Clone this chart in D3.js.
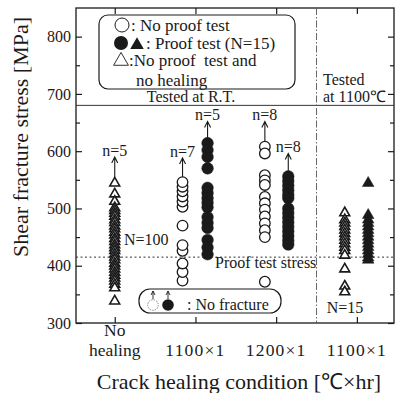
<!DOCTYPE html>
<html>
<head>
<meta charset="utf-8">
<script src="https://cdn.jsdelivr.net/npm/d3@7"></script>
<style>
  body { margin: 0; background: #fff; }
  text { font-family: "Liberation Serif", "Times New Roman", serif; fill: #1a1a1a; }
</style>
</head>
<body>
<svg id="chart"></svg>
<script>
// categories on the x axis
const categories = [["No", "healing"], ["1100×1"], ["1200×1"], ["1100×1"]];
const yTicks = [300, 400, 500, 600, 700, 800];
const yMinor = [350, 450, 550, 650, 750];

// shear fracture stress [MPa]
const noHealing = [546, 527, 514, 503, 498, 493, 488, 482, 477, 471, 466, 460, 455, 449, 444,
  438, 433, 428, 422, 417, 412, 406, 401, 396, 390, 385, 380, 375, 369, 363, 340];
const rt1100Open = [374, 389, 404, 426, 436, 470, 503, 512, 521, 530, 538, 546];
const rt1100Proof = [614, 602, 590, 570, 536, 527, 518, 510, 502, 485, 475, 466, 445, 432, 420];
const rt1200Open = [608, 596, 558, 549, 541, 520, 509, 498, 486, 474, 462, 450, 372];
const rt1200Proof = [556, 548, 540, 532, 524, 518, 500, 492, 484, 476, 468, 460, 452, 444, 437];
const ht1100Open = [494, 482, 476, 470, 464, 458, 452, 446, 440, 434, 428, 420, 396, 366, 356];
const ht1100Proof = [546, 490, 482, 476, 470, 464, 458, 452, 446, 440, 434, 428, 422, 416, 412];

// run-outs (no fracture): arrow from highest point up to label
const arrowCat = [0, 0.84, 1.15, 1.86, 2.15];
const arrowFrom = [546, 546, 614, 608, 556];
const arrowTo = [590, 588, 652, 652, 596];
const arrowLabels = ["n=5", "n=7", "n=5", "n=8", "n=8"];

const proofStress = 415;
const roomTempLimit = 680;
const separatorAt = 2.5;

const width = 395, height = 393;
const plotLeft = 76, plotRight = 394, plotTop = 8, plotBottom = 323;

const svg = d3.select('#chart').attr('width', width).attr('height', height);
svg.append('rect').attr('width', width).attr('height', height).attr('fill', '#fff');

const x = d3.scaleLinear().domain([-0.48, 3.46]).range([plotLeft, plotRight]);
const y = d3.scaleLinear().domain([300, 850]).range([plotBottom, plotTop]);

// axes (ticks point inwards)
const ink = '#1a1a1a';
function styleAxis(g) {
  g.select('.domain').remove();
  g.selectAll('line').attr('stroke', ink).attr('stroke-width', 1.2);
  g.selectAll('text').attr('font-size', 16).attr('fill', ink)
    .style('font-family', '"Liberation Serif", serif');
}
svg.append('g').attr('transform', `translate(${plotLeft},0)`)
  .call(d3.axisLeft(y).tickValues(yTicks).tickSize(-6).tickPadding(5)).call(styleAxis);
svg.append('g').attr('transform', `translate(${plotLeft},0)`)
  .call(d3.axisLeft(y).tickValues(yMinor).tickSize(-4).tickFormat('')).call(styleAxis);
svg.append('g').attr('transform', `translate(${plotRight},0)`)
  .call(d3.axisRight(y).tickValues(yTicks).tickSize(-6).tickFormat('')).call(styleAxis);
svg.append('g').attr('transform', `translate(${plotRight},0)`)
  .call(d3.axisRight(y).tickValues(yMinor).tickSize(-4).tickFormat('')).call(styleAxis);
svg.append('g').attr('transform', `translate(0,${plotBottom})`)
  .call(d3.axisBottom(x).tickValues([0, 1, 2, 3]).tickSize(-6).tickFormat('')).call(styleAxis);
svg.append('g').attr('transform', `translate(0,${plotTop})`)
  .call(d3.axisTop(x).tickValues([0, 1, 2, 3]).tickSize(-6).tickFormat('')).call(styleAxis);

svg.append('rect')
  .attr('x', plotLeft).attr('y', plotTop)
  .attr('width', plotRight - plotLeft).attr('height', plotBottom - plotTop)
  .attr('fill', 'none').attr('stroke', ink).attr('stroke-width', 1.3);

// category labels
categories.forEach((lines, i) => {
  const t = svg.append('text').attr('text-anchor', 'middle').attr('font-size', 17.5);
  if (lines.length === 2) {
    t.append('tspan').attr('x', x(i)).attr('y', 336).text(lines[0]);
    t.append('tspan').attr('x', x(i)).attr('y', 356).text(lines[1]);
  } else {
    t.attr('x', x(i)).attr('y', 356).attr('letter-spacing', 1.2).text(lines[0]);
  }
});

svg.append('text').attr('x', 239).attr('y', 389).attr('text-anchor', 'middle')
  .attr('font-size', 22).text('Crack healing condition [℃×hr]');
svg.append('text').attr('transform', 'translate(28,137) rotate(-90)')
  .attr('text-anchor', 'middle').attr('font-size', 22).text('Shear fracture stress [MPa]');

// reference lines
svg.append('line').attr('x1', plotLeft).attr('x2', plotRight)
  .attr('y1', y(roomTempLimit)).attr('y2', y(roomTempLimit))
  .attr('stroke', '#333').attr('stroke-width', 1);
svg.append('line').attr('x1', x(separatorAt)).attr('x2', x(separatorAt))
  .attr('y1', plotTop).attr('y2', plotBottom)
  .attr('stroke', '#555').attr('stroke-width', 0.9).attr('stroke-dasharray', '7,2,1.5,2');
svg.append('line').attr('x1', plotLeft).attr('x2', plotRight)
  .attr('y1', y(proofStress)).attr('y2', y(proofStress))
  .attr('stroke', '#333').attr('stroke-width', 1).attr('stroke-dasharray', '2,2.5');

svg.append('text').attr('x', 215).attr('y', 268).attr('font-size', 16).text('Proof test stress');
svg.append('text').attr('x', 124).attr('y', 245).attr('font-size', 16).text('N=100');
svg.append('text').attr('x', 345).attr('y', 313).attr('text-anchor', 'middle')
  .attr('font-size', 16).text('N=15');
svg.append('text').attr('x', 191).attr('y', 102).attr('text-anchor', 'middle')
  .attr('font-size', 16).text('Tested at R.T.');
svg.append('text').attr('x', 323).attr('y', 85).attr('font-size', 16).text('Tested');
svg.append('text').attr('x', 323).attr('y', 102).attr('font-size', 16).text('at 1100℃');

// data marks
const series = [
  { values: noHealing, pos: 0, shape: 'tri', filled: false },
  { values: rt1100Open, pos: 0.84, shape: 'circ', filled: false },
  { values: rt1100Proof, pos: 1.15, shape: 'circ', filled: true },
  { values: rt1200Open, pos: 1.86, shape: 'circ', filled: false },
  { values: rt1200Proof, pos: 2.15, shape: 'circ', filled: true },
  { values: ht1100Open, pos: 2.85, shape: 'tri', filled: false },
  { values: ht1100Proof, pos: 3.14, shape: 'tri', filled: true },
];
const triOpen = d3.symbol().type(d3.symbolTriangle).size(42);
const triFill = d3.symbol().type(d3.symbolTriangle).size(58);

series.forEach(s => {
  const g = svg.append('g');
  if (s.shape === 'circ') {
    g.selectAll('circle').data(s.values).join('circle')
      .attr('cx', x(s.pos)).attr('cy', d => y(d))
      .attr('r', s.filled ? 5.8 : 5.3)
      .attr('fill', s.filled ? ink : '#fff')
      .attr('stroke', ink).attr('stroke-width', s.filled ? 0.5 : 1.3);
  } else {
    g.selectAll('path').data(s.values).join('path')
      .attr('transform', d => `translate(${x(s.pos)},${y(d) + 1})`)
      .attr('d', s.filled ? triFill : triOpen)
      .attr('fill', s.filled ? ink : '#fff')
      .attr('stroke', ink).attr('stroke-width', s.filled ? 0.5 : 1.6);
  }
});

// run-out arrows
arrowCat.forEach((c, i) => {
  const ax = x(c), y0 = y(arrowFrom[i]) - 5, y1 = y(arrowTo[i]);
  svg.append('path')
    .attr('d', `M${ax},${y0}L${ax},${y1}M${ax - 3},${y1 + 6}L${ax},${y1}L${ax + 3},${y1 + 6}`)
    .attr('fill', 'none').attr('stroke', ink).attr('stroke-width', 1.1);
  svg.append('text').attr('x', ax).attr('y', y1 - 1).attr('text-anchor', 'middle')
    .attr('font-size', 16).text(arrowLabels[i]);
});

// legend box
svg.append('rect').attr('x', 99).attr('y', 15).attr('width', 196).attr('height', 74).attr('rx', 9)
  .attr('fill', '#fff').attr('stroke', ink).attr('stroke-width', 1.2);
svg.append('circle').attr('cx', 122).attr('cy', 25).attr('r', 7)
  .attr('fill', '#fff').attr('stroke', ink).attr('stroke-width', 1);
svg.append('text').attr('x', 131).attr('y', 31).attr('font-size', 17).text(': No proof test');
svg.append('circle').attr('cx', 121).attr('cy', 43).attr('r', 7).attr('fill', ink);
svg.append('path').attr('transform', 'translate(137,45)')
  .attr('d', d3.symbol().type(d3.symbolTriangle).size(80)).attr('fill', ink);
svg.append('text').attr('x', 146).attr('y', 49).attr('font-size', 17).text(': Proof test (N=15)');
svg.append('path').attr('transform', 'translate(121,61)')
  .attr('d', d3.symbol().type(d3.symbolTriangle).size(95))
  .attr('fill', '#fff').attr('stroke', ink).attr('stroke-width', 0.9);
svg.append('text').attr('x', 129).attr('y', 66).attr('font-size', 17).attr('xml:space', 'preserve')
  .text(':No proof  test and');
svg.append('text').attr('x', 136).attr('y', 85.5).attr('font-size', 17).text('no healing');

// no fracture key
svg.append('rect').attr('x', 139).attr('y', 289).attr('width', 142).attr('height', 24).attr('rx', 11)
  .attr('fill', '#fff').attr('stroke', ink).attr('stroke-width', 1.2);
svg.append('circle').attr('cx', 153).attr('cy', 305).attr('r', 5.3)
  .attr('fill', '#fff').attr('stroke', '#888').attr('stroke-width', 1).attr('stroke-dasharray', '1.5,1');
svg.append('circle').attr('cx', 168).attr('cy', 305).attr('r', 5.8).attr('fill', ink);
[153, 168].forEach(ax => {
  svg.append('path')
    .attr('d', `M${ax},299L${ax},291M${ax - 2},295L${ax},291L${ax + 2},295`)
    .attr('fill', 'none').attr('stroke', ink).attr('stroke-width', 0.9);
});
svg.append('text').attr('x', 187).attr('y', 310).attr('font-size', 16).text(': No fracture');
</script>
</body>
</html>
